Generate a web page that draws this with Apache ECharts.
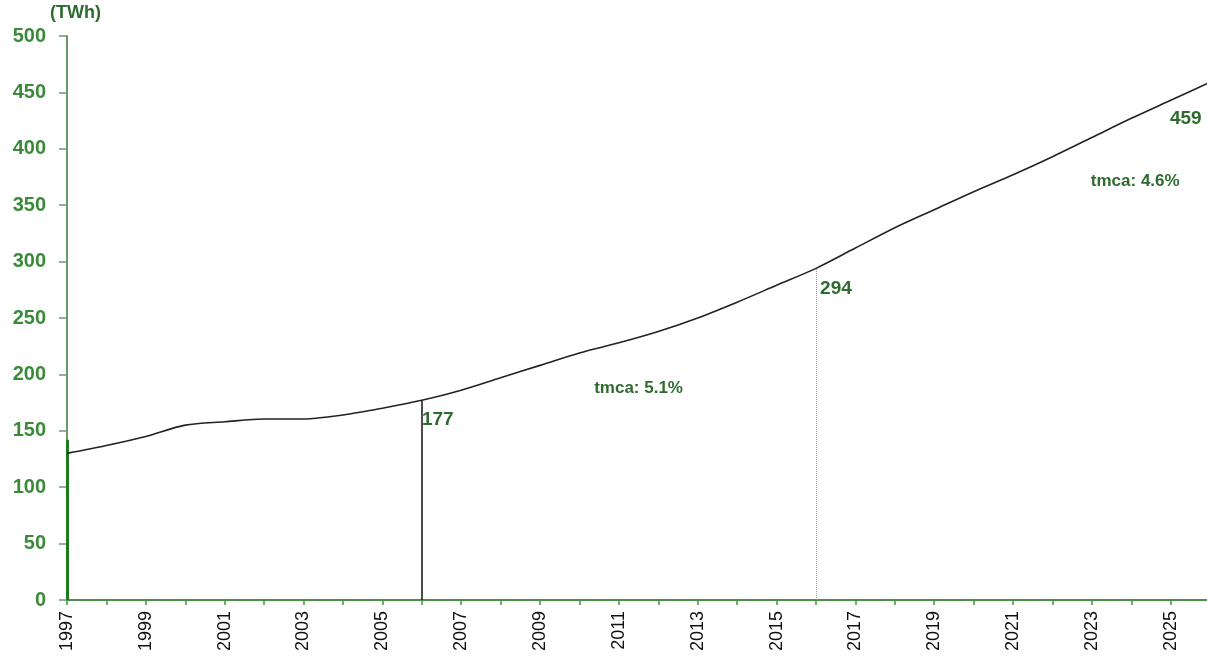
<!DOCTYPE html>
<html>
<head>
<meta charset="utf-8">
<script src="https://cdn.jsdelivr.net/npm/echarts@6/dist/echarts.min.js"></script>
<style>
html,body{margin:0;padding:0;background:#fff;}
#chart{width:1207px;height:665px;}
</style>
</head>
<body>
<div id="chart"></div>
<script>
// ---- data ----
const years = [1997,1998,1999,2000,2001,2002,2003,2004,2005,2006,2007,2008,2009,2010,2011,2012,2013,2014,2015,2016,2017,2018,2019,2020,2021,2022,2023,2024,2025,2026];
const consumption = [130,137,145,155,158,160.5,160.5,164,170,177,186,197,208,219,228,238,250,264,279,294,312,330,346,362,377,393,410,427,443,459];
const tickYears = [1997,1998,1999,2000,2001,2002,2003,2004,2005,2006,2007,2008,2009,2010,2011,2012,2013,2014,2015,2016,2017,2018,2019,2020,2021,2022,2023,2024,2025];
const labelYears = [1997,1999,2001,2003,2005,2007,2009,2011,2013,2015,2017,2019,2021,2023,2025];
const markedYears = [2006, 2016, 2026];
const markedValues = [177, 294, 459];
const growthLabels = ['tmca: 5.1%', 'tmca: 4.6%'];
const growthAnchors = [[2011.5, 188], [2024.1, 371]];
const yUnit = '(TWh)';

const pts = years.map((y, i) => [y, consumption[i]]);
const green = '#3a8a3a';
const darkGreen = '#2e6b2e';
const font = 'Liberation Sans, Arial, sans-serif';

const chart = echarts.init(document.getElementById('chart'));
chart.setOption({
  animation: false,
  backgroundColor: '#fff',
  grid: { left: 67, right: 0, top: 36, bottom: 65, containLabel: false },
  xAxis: {
    type: 'value', min: 1997, max: 2025.92,
    axisLine: { show: true, onZero: false, lineStyle: { color: '#4a904a', width: 2 } },
    axisTick: { show: true, length: 5, customValues: tickYears, lineStyle: { color: '#4a904a', width: 1.5 } },
    axisLabel: { customValues: labelYears, rotate: 90, margin: 11, color: '#111',
      fontFamily: font, fontSize: 18, formatter: v => String(v) },
    splitLine: { show: false }
  },
  yAxis: {
    type: 'value', min: 0, max: 500, interval: 50,
    name: yUnit, nameLocation: 'end', nameGap: 14,
    nameTextStyle: { color: darkGreen, fontWeight: 'bold', fontSize: 18, fontFamily: font, align: 'left', padding: [0, 0, 0, -17] },
    axisLine: { show: true, lineStyle: { color: '#6a9a6a', width: 2 } },
    axisTick: { show: true, length: 8, lineStyle: { color: '#6a9a6a', width: 1.5 } },
    axisLabel: { color: green, fontWeight: 'bold', fontSize: 20, margin: 21, fontFamily: font },
    splitLine: { show: false }
  },
  series: [{
    type: 'line',
    data: pts,
    showSymbol: false,
    smooth: 0.3,
    lineStyle: { color: '#222', width: 1.6 },
    z: 5,
    markLine: {
      symbol: 'none', silent: true, label: { show: false },
      data: [
        [{ coord: [1997, 0], lineStyle: { color: '#1f7a1f', width: 3, type: 'solid' } }, { coord: [1997, 142] }],
        [{ coord: [markedYears[0], 0], lineStyle: { color: '#111', width: 1.5, type: 'solid' } }, { coord: [markedYears[0], markedValues[0]] }],
        [{ coord: [markedYears[1], 0], lineStyle: { color: '#999', width: 1, type: 'dotted' } }, { coord: [markedYears[1], markedValues[1]] }]
      ]
    },
    markPoint: {
      symbol: 'circle', symbolSize: 1, silent: true,
      itemStyle: { color: 'rgba(0,0,0,0)' },
      label: { show: true, color: darkGreen, fontWeight: 'bold', fontSize: 19, fontFamily: font, position: 'inside' },
      data: [
        { coord: [markedYears[0], markedValues[0]], value: markedValues[0], label: { formatter: String(markedValues[0]), offset: [16, 19] } },
        { coord: [markedYears[1], markedValues[1]], value: markedValues[1], label: { formatter: String(markedValues[1]), offset: [20, 20] } },
        { coord: [2025, consumption[28]], value: markedValues[2], label: { formatter: String(markedValues[2]), offset: [15, 18] } },
        { coord: growthAnchors[0], label: { formatter: growthLabels[0], fontSize: 17 } },
        { coord: growthAnchors[1], label: { formatter: growthLabels[1], fontSize: 17 } }
      ]
    }
  }]
});
</script>
</body>
</html>
